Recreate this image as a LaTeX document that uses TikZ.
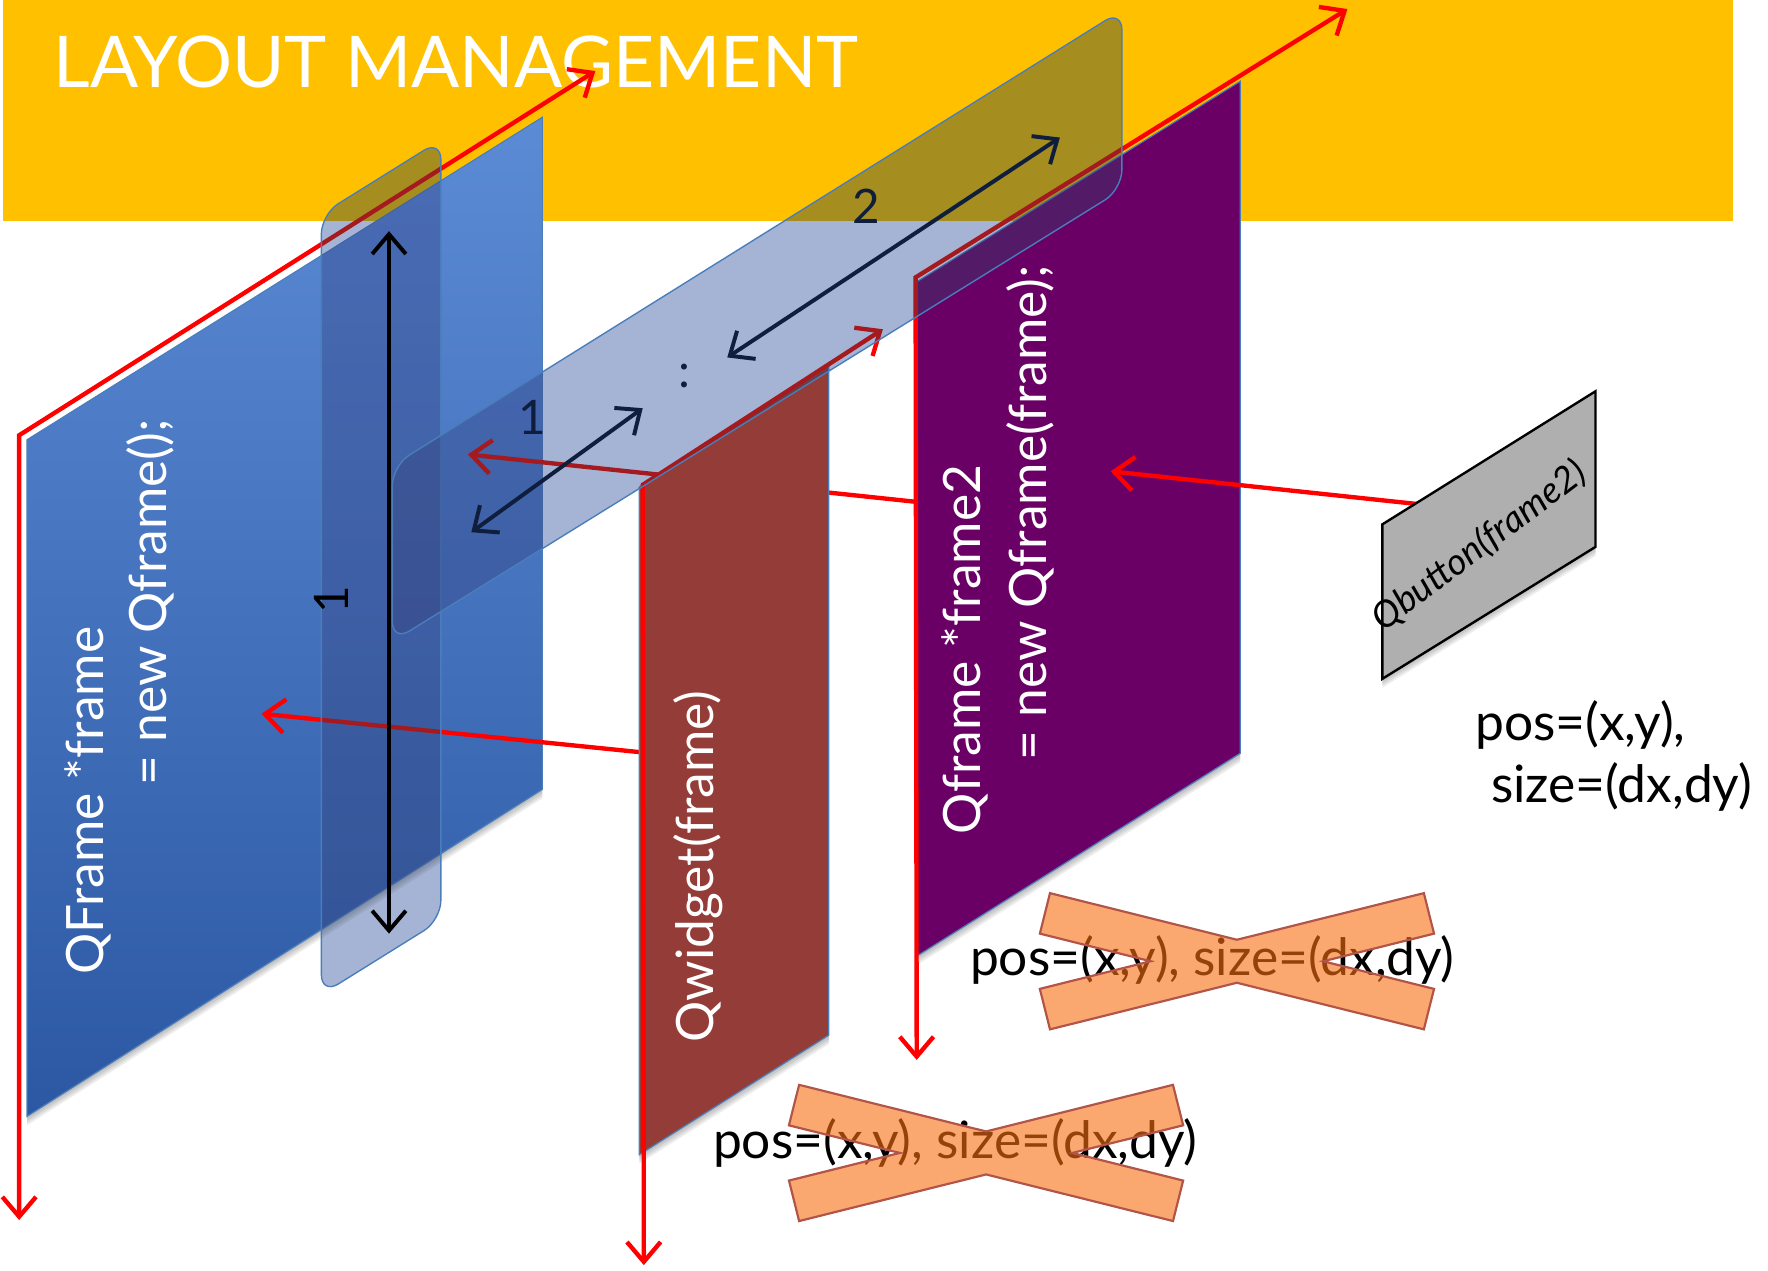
\documentclass[tikz,border=0pt]{standalone}
\usepackage{fontspec}
\setmainfont{Lato}
\usetikzlibrary{arrows.meta}

\definecolor{bannerorange}{RGB}{255,192,0}
\definecolor{frametop}{RGB}{92,139,214}
\definecolor{framebottom}{RGB}{44,88,163}
\definecolor{widgetred}{RGB}{148,60,56}
\definecolor{frameviolet}{RGB}{106,0,102}
\definecolor{buttongray}{RGB}{175,175,175}
\definecolor{edgeblue}{RGB}{74,126,187}
\definecolor{glassblue}{RGB}{165,180,212}
\definecolor{navy}{RGB}{15,30,60}
\definecolor{crossfill}{RGB}{247,110,17}
\definecolor{crossedge}{RGB}{178,84,72}

% X-shaped strike mark centred at (#1,#2)
\newcommand\drawcross[2]{%
  \begin{scope}[shift={(#1,#2)}]
    \path[crossmark] (-165.8,-60.4) -- (0,-19.07) -- (165.8,-60.4) -- (174.8,-24.5)
      -- (76.5,0) -- (174.8,24.5) -- (165.8,60.4) -- (0,19.07) -- (-165.8,60.4)
      -- (-174.8,24.5) -- (-76.5,0) -- (-174.8,-24.5) -- cycle;
  \end{scope}}

% soft shadow under an opaque flat shape (path given as #1)
\newcommand\softshadow[1]{%
  \foreach \d in {2,4,6,8}{\fill[black, fill opacity=0.07, shift={(0,\d)}] #1;}}

% translucent strip: a darkening layer plus a light veil
\newcommand\glassstrip[1]{%
  \begin{scope}[blend mode=multiply]
    \fill[glassblue, rounded corners=10pt] #1;
  \end{scope}
  \path[fill=glassblue, fill opacity=0.15, draw=edgeblue, line width=0.7pt, rounded corners=10pt] #1;}

\begin{document}
\begin{tikzpicture}[x=0.02cm, y=-0.02cm,
  >={Straight Barb[length=10pt,width=17pt]},
  panel/.style={draw=edgeblue, line width=0.6pt},
  axisline/.style={draw=red, line width=2.2pt, line join=miter},
  link/.style={draw=red, line width=2.2pt, ->},
  measure/.style={draw=navy, line width=2pt, <->},
  paneltext/.style={text=white, font=\fontsize{26}{30}\selectfont, inner sep=0pt, rotate=90, anchor=base west},
  numlabel/.style={text=navy, font=\fontsize{24}{26}\selectfont, inner sep=0pt},
  codetext/.style={text=black, font=\fontsize{26}{28}\selectfont, inner sep=0pt, anchor=base west},
  crossmark/.style={fill=crossfill, fill opacity=0.6, draw=crossedge, line width=1.1pt, line join=miter}]

\useasboundingbox (0,0) rectangle (1568,1127);

% title banner
\fill[bannerorange] (3,0) rectangle (1537,196);
\node[anchor=base west, text=white, font=\fontsize{36}{40}\selectfont, inner sep=0pt] (title) at (47,78) {LAYOUT MANAGEMENT};

% ---- QFrame (blue) ----
\softshadow{(24,390) -- (481,104) -- (481,700) -- (24,990) -- cycle}
\shade[top color=frametop, bottom color=framebottom] (24,390) -- (481,104) -- (481,700) -- (24,990) -- cycle;
\path[panel] (24,390) -- (481,104) -- (481,700) -- (24,990) -- cycle;
\coordinate (o1) at (17,386);
\coordinate (x1) at (528,63);
\coordinate (y1) at (17,1082);
\draw[axisline, <->] (x1) -- (o1) -- (y1);

% parent links drawn behind the glass strips and the widget
\coordinate (wl) at (567,667);
\coordinate (fa) at (232,633);
\draw[link] (wl) -- (fa);
\coordinate (pl) at (812,445);
\coordinate (fb) at (415,403);
\draw[link] (pl) -- (fb);

% vertical glass strip (column)
\glassstrip{(285,190) -- (391,124) -- (391,816) -- (285,882) -- cycle}
\coordinate (vt) at (345,205);
\coordinate (vb) at (345,828);
\draw[black, line width=2pt, <->] (vt) -- (vb);
\node[text=black, font=\fontsize{24}{26}\selectfont, inner sep=0pt, rotate=90] (lv) at (294,532) {1};

% ---- Qwidget (brown) ----
\softshadow{(567,432) -- (735,325) -- (735,918) -- (567,1024) -- cycle}
\fill[widgetred] (567,432) -- (735,325) -- (735,918) -- (567,1024) -- cycle;
\path[panel] (567,432) -- (735,325) -- (735,918) -- (567,1024) -- cycle;
\coordinate (o2) at (570,430);
\coordinate (x2) at (783,292);
\coordinate (y2) at (571,1122);
\draw[axisline, <->] (x2) -- (o2) -- (y2);

% ---- Qframe2 (violet) ----
\softshadow{(813,250) -- (1100,72) -- (1100,668) -- (813,848) -- cycle}
\fill[frameviolet] (813,250) -- (1100,72) -- (1100,668) -- (813,848) -- cycle;
\path[panel] (813,250) -- (1100,72) -- (1100,668) -- (813,848) -- cycle;
\coordinate (o3) at (812,246);
\coordinate (x3) at (1195,8);
\coordinate (y3) at (813,940);
\draw[axisline, <->] (x3) -- (o3) -- (y3);

% diagonal glass strip (row)
\glassstrip{(348,413) -- (995,9) -- (995,168) -- (348,569) -- cycle}
\coordinate (a1) at (418,472);
\coordinate (b1) at (570,362);
\draw[measure] (a1) -- (b1);
\coordinate (a2) at (645,317);
\coordinate (b2) at (940,122);
\draw[measure] (a2) -- (b2);
\node[numlabel] (l1) at (472,370) {1};
\node[numlabel] (ldots) at (607,333) {:};
\node[numlabel] (l2) at (768,183) {2};

% panel captions
\node[paneltext] (f1a) at (92,865) {QFrame *frame};
\node[paneltext] (f1b) at (148,697) {= new Qframe();};
\node[paneltext] (wa) at (633,925) {Qwidget(frame)};
\node[paneltext] (f2a) at (870,740) {Qframe *frame2};
\node[paneltext] (f2b) at (928,675) {= new Qframe(frame);};

% ---- Qbutton (gray) ----
\coordinate (bl) at (1257,447);
\coordinate (pv) at (985,418);
\draw[link] (bl) -- (pv);
\softshadow{(1226,465) -- (1415,347) -- (1415,485) -- (1226,602) -- cycle}
\path[fill=buttongray, draw=black, line width=1.2pt] (1226,465) -- (1415,347) -- (1415,485) -- (1226,602) -- cycle;
\node[text=black, font=\fontsize{18.5}{21}\selectfont\itshape, inner sep=0pt, rotate=37] (btn) at (1312,484) {Qbutton(frame2)};

% geometry given by the layout
\node[codetext] (ok1) at (1308,657) {pos=(x,y),};
\node[codetext] (ok2) at (1322,712) {size=(dx,dy)};

% geometry that is not given
\node[codetext] (no1) at (860,865) {pos=(x,y), size=(dx,dy)};
\drawcross{1097}{852.5}
\node[codetext] (no2) at (632,1027) {pos=(x,y), size=(dx,dy)};
\drawcross{874.5}{1022.5}

\end{tikzpicture}
\end{document}
